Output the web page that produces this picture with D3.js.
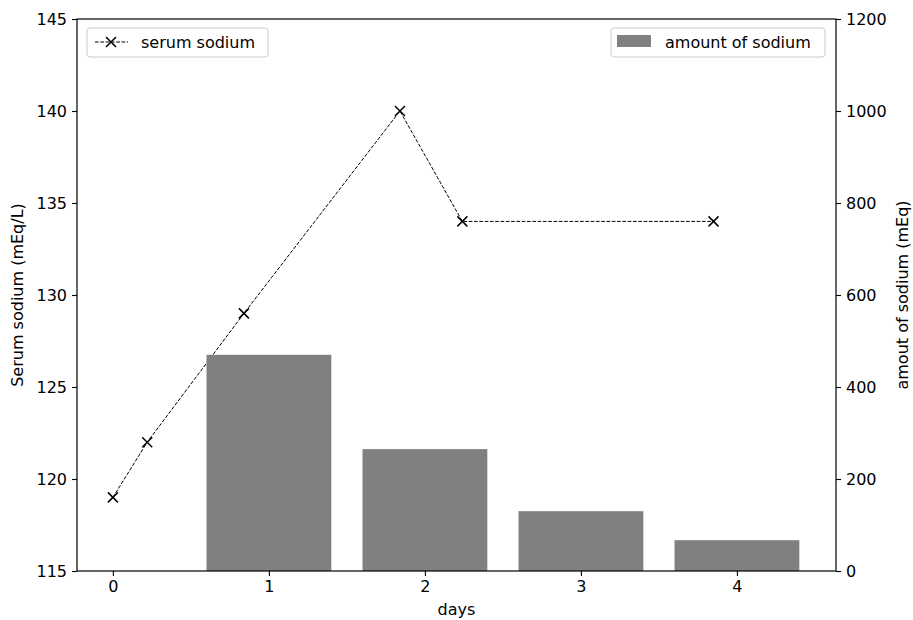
<!DOCTYPE html>
<html><head><meta charset="utf-8">
<script src="https://cdn.jsdelivr.net/npm/d3@7"></script>
<style>body{margin:0;background:#fff;} svg{display:block;font-family:"DejaVu Sans",sans-serif;}</style>
</head><body>
<svg id="c" width="913" height="620"></svg>
<script>
const lineX = [0, 0.22, 0.84, 1.84, 2.24, 3.85];
const lineY = [119, 122, 129, 140, 134, 134];
const barX = [1, 2, 3, 4];
const barY = [470, 265, 130, 67];
const xTicks = [0, 1, 2, 3, 4];
const leftTicks = [115, 120, 125, 130, 135, 140, 145];
const rightTicks = [0, 200, 400, 600, 800, 1000, 1200];

const svg = d3.select("#c");
const L = 77, R = 836, T = 19, B = 571;
const x = d3.scaleLinear().domain([-0.23, 4.635]).range([L, R]);
const yL = d3.scaleLinear().domain([115, 145]).range([B, T]);
const yR = d3.scaleLinear().domain([0, 1200]).range([B, T]);

// line
const line = d3.line().x((d,i)=>x(lineX[i])).y((d,i)=>yL(lineY[i]));
svg.append("path").datum(lineY).attr("d", line).attr("fill","none")
  .attr("stroke","#000").attr("stroke-width",1).attr("stroke-dasharray","3.7,1.6");
const mk = svg.append("g");
lineY.forEach((v,i)=>{
  const cx=x(lineX[i]), cy=yL(v), s=5;
  mk.append("path").attr("d",`M${cx-s},${cy-s}L${cx+s},${cy+s}M${cx-s},${cy+s}L${cx+s},${cy-s}`)
    .attr("stroke","#000").attr("stroke-width",1.5);
});

// bars
const bw = x(0.8)-x(0);
svg.append("g").selectAll("rect").data(barY).join("rect")
  .attr("x",(d,i)=>x(barX[i]-0.4)).attr("width",bw)
  .attr("y",d=>yR(d)).attr("height",d=>B-yR(d)).attr("fill","#808080");

// frame
svg.append("rect").attr("x",L).attr("y",T).attr("width",R-L).attr("height",B-T)
  .attr("fill","none").attr("stroke","#000").attr("stroke-width",1.2);

// axes
const fs = "16px";
const ax = svg.append("g").attr("transform",`translate(0,${B})`)
  .call(d3.axisBottom(x).tickValues(xTicks).tickSize(5).tickPadding(5).tickFormat(d3.format("d")));
const al = svg.append("g").attr("transform",`translate(${L},0)`)
  .call(d3.axisLeft(yL).tickValues(leftTicks).tickSize(5).tickPadding(5).tickFormat(d3.format("d")));
const ar = svg.append("g").attr("transform",`translate(${R},0)`)
  .call(d3.axisRight(yR).tickValues(rightTicks).tickSize(5).tickPadding(5).tickFormat(d3.format("d")));
[ax,al,ar].forEach(g=>{
  g.select(".domain").remove();
  g.selectAll("line").attr("stroke","#000").attr("stroke-width",1.1);
  g.selectAll("text").attr("font-size",fs).attr("fill","#000").attr("font-family","DejaVu Sans");
});

// labels
svg.append("text").attr("x",(L+R)/2).attr("y",615).attr("text-anchor","middle")
  .attr("font-size","16px").text("days");
svg.append("text").attr("transform",`translate(23,${(T+B)/2}) rotate(-90)`).attr("text-anchor","middle")
  .attr("font-size","16px").text("Serum sodium (mEq/L)");
svg.append("text").attr("transform",`translate(908,${(T+B)/2}) rotate(-90)`).attr("text-anchor","middle")
  .attr("font-size","16px").text("amout of sodium (mEq)");

// legends
const lg1 = svg.append("g");
lg1.append("rect").attr("x",87).attr("y",28).attr("width",181).attr("height",29).attr("rx",3)
  .attr("fill","#fff").attr("fill-opacity",0.8).attr("stroke","#ccc");
lg1.append("line").attr("x1",95).attr("x2",128).attr("y1",42).attr("y2",42)
  .attr("stroke","#000").attr("stroke-dasharray","3.7,1.6");
lg1.append("path").attr("d","M106,37L116,47M106,47L116,37").attr("stroke","#000").attr("stroke-width",1.5);
lg1.append("text").attr("x",141).attr("y",48).attr("font-size","16px").text("serum sodium");

const lg2 = svg.append("g");
lg2.append("rect").attr("x",611).attr("y",28).attr("width",214).attr("height",29).attr("rx",3)
  .attr("fill","#fff").attr("fill-opacity",0.8).attr("stroke","#ccc");
lg2.append("rect").attr("x",617).attr("y",35).attr("width",34).attr("height",12).attr("fill","#808080");
lg2.append("text").attr("x",665).attr("y",48).attr("font-size","16px").text("amount of sodium");
</script>
</body></html>
